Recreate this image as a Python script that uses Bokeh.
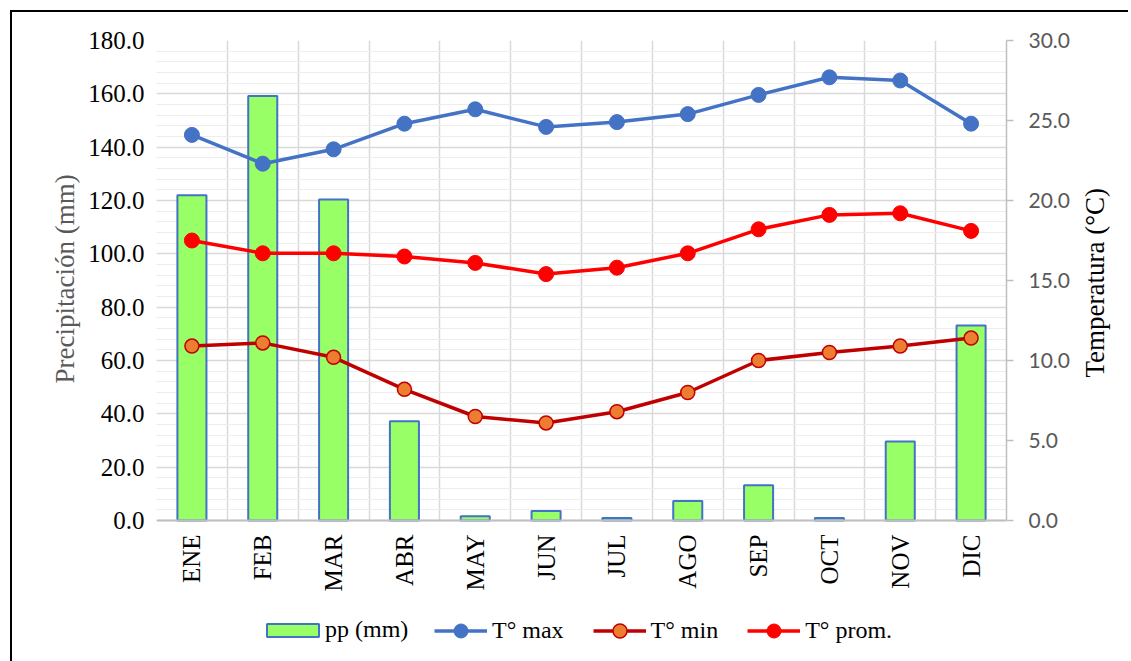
import math
from bokeh.plotting import figure
from bokeh.models import (Range1d, LinearAxis, FixedTicker, Legend, LegendItem,
                          ColumnDataSource, NumeralTickFormatter, Title)
from bokeh.embed import file_html
from bokeh.resources import INLINE

months = ["ENE", "FEB", "MAR", "ABR", "MAY", "JUN", "JUL", "AGO", "SEP", "OCT", "NOV", "DIC"]
pp = [122.0, 159.2, 120.4, 37.2, 1.6, 3.6, 0.9, 7.3, 13.2, 0.9, 29.6, 73.1]
tmax = [24.1, 22.3, 23.2, 24.8, 25.7, 24.6, 24.9, 25.4, 26.6, 27.7, 27.5, 24.8]
tmin = [10.9, 11.1, 10.2, 8.2, 6.5, 6.1, 6.8, 8.0, 10.0, 10.5, 10.9, 11.4]
tprom = [17.5, 16.7, 16.7, 16.5, 16.1, 15.4, 15.8, 16.7, 18.2, 19.1, 19.2, 18.1]
pp_ticks = [0, 20, 40, 60, 80, 100, 120, 140, 160, 180]
temp_ticks = [0, 5, 10, 15, 20, 25, 30]

xs = [i + 0.5 for i in range(len(months))]
src = ColumnDataSource(dict(x=xs, month=months, pp=pp, tmax=tmax, tmin=tmin, tprom=tprom))

SERIF = "Liberation Serif"

# plotting area: 480 px for the 0..180 / 0..30 span, extended below so that the
# month labels and the legend live inside the frame
PLOT_H = 480
EXTRA_H = 194
PP_MAX, T_MAX = 180, 30
pp_low = -EXTRA_H * PP_MAX / PLOT_H
t_low = -EXTRA_H * T_MAX / PLOT_H

p = figure(frame_width=850, frame_height=PLOT_H + EXTRA_H, output_backend="svg",
           toolbar_location=None,
           x_range=Range1d(0, len(months)), y_range=Range1d(pp_low, PP_MAX),
           min_border_left=144, min_border_right=122, min_border_top=28,
           min_border_bottom=0)
p.outline_line_color = None
p.background_fill_color = "white"
p.border_fill_color = "white"
p.styles = {"border-left": "2px solid black", "border-top": "2px solid black",
            "margin-left": "10px", "margin-top": "10px"}

p.extra_y_ranges = {"temp": Range1d(t_low, T_MAX)}

# grids
p.xgrid.ticker = FixedTicker(ticks=list(range(len(months) + 1)))
p.xgrid.grid_line_color = "#D9D9D9"
p.xgrid.grid_line_width = 1.5
if "cross_bounds" in p.xgrid[0].properties():
    p.xgrid.cross_bounds = (0, PP_MAX)
else:
    p.segment(x0=list(range(len(months) + 1)), y0=0, x1=list(range(len(months) + 1)),
              y1=PP_MAX, line_color="#D9D9D9", line_width=1.5, level="underlay")
    p.xgrid.grid_line_color = None
p.ygrid.ticker = FixedTicker(ticks=pp_ticks, minor_ticks=[v for v in range(0, PP_MAX + 1, 4)])
p.ygrid.grid_line_color = "#D9D9D9"
p.ygrid.grid_line_width = 1.5
p.ygrid.minor_grid_line_color = "#EDEDED"
p.ygrid.minor_grid_line_width = 1.2

# x axis (fixed at 0 inside the frame)
xa = p.xaxis[0]
xa.fixed_location = 0
xa.ticker = FixedTicker(ticks=xs)
xa.major_label_overrides = {x: m for x, m in zip(xs, months)}
xa.major_label_orientation = math.pi / 2
xa.major_label_text_font = SERIF
xa.major_label_text_font_size = "25px"
xa.major_label_text_color = "black"
xa.major_tick_line_color = None
xa.major_tick_out = 0
xa.major_tick_in = 0
xa.minor_tick_line_color = None
xa.axis_line_color = "#BFBFBF"
xa.axis_line_width = 2
xa.major_label_standoff = 14

# left axis
ya = p.yaxis[0]
ya.ticker = FixedTicker(ticks=pp_ticks)
ya.formatter = NumeralTickFormatter(format="0.0")
ya.axis_line_color = None
ya.major_tick_line_color = None
ya.major_tick_out = 0
ya.major_tick_in = 0
ya.minor_tick_line_color = None
ya.major_label_text_font = SERIF
ya.major_label_text_font_size = "25px"
ya.major_label_text_color = "black"
ya.major_label_standoff = 12

left_title = Title(text="Precipitación (mm)", align="left", offset=EXTRA_H + 137,
                   text_font=SERIF, text_font_style="normal", text_font_size="27px",
                   text_color="#595959", standoff=12)
p.add_layout(left_title, "left")

# right axis
ra = LinearAxis(y_range_name="temp", ticker=FixedTicker(ticks=temp_ticks),
                formatter=NumeralTickFormatter(format="0.0"), bounds=(0, T_MAX))
ra.axis_line_color = "#BFBFBF"
ra.axis_line_width = 1.5
ra.major_tick_line_color = "#BFBFBF"
ra.major_tick_line_width = 1.5
ra.major_tick_out = 7
ra.major_tick_in = 0
ra.minor_tick_line_color = None
ra.major_label_text_font = "Lato"
ra.major_label_text_font_size = "21px"
ra.major_label_text_color = "#595959"
ra.major_label_standoff = 15
ra.axis_label = "Temperatura (°C)"
ra.axis_label_text_font = SERIF
ra.axis_label_text_font_style = "normal"
ra.axis_label_text_font_size = "27px"
ra.axis_label_text_color = "black"
ra.axis_label_standoff = 22
if "axis_label_orientation" in ra.properties():
    ra.axis_label_orientation = math.pi / 2
p.add_layout(ra, "right")

# bars
bars = p.vbar(x="x", top="pp", width=0.41, source=src, fill_color="#99FF66",
              line_color="#4472C4", line_width=2)

# lines
l_max = p.line("x", "tmax", source=src, y_range_name="temp", line_color="#4472C4", line_width=3.5)
s_max = p.scatter("x", "tmax", source=src, y_range_name="temp", size=15,
                  fill_color="#4472C4", line_color="#4472C4")
l_min = p.line("x", "tmin", source=src, y_range_name="temp", line_color="#C00000", line_width=3.5)
s_min = p.scatter("x", "tmin", source=src, y_range_name="temp", size=14,
                  fill_color="#ED7D31", line_color="#C00000", line_width=1.5)
l_avg = p.line("x", "tprom", source=src, y_range_name="temp", line_color="#FF0000", line_width=3.5)
s_avg = p.scatter("x", "tprom", source=src, y_range_name="temp", size=15,
                  fill_color="#FF0000", line_color="#FF0000")


def style_legend(lg):
    lg.label_text_font = SERIF
    lg.label_text_font_size = "24px"
    lg.label_text_color = "black"
    lg.label_height = 24
    lg.border_line_color = None
    lg.background_fill_alpha = 0
    lg.padding = 2
    lg.margin = 0
    lg.spacing = 29


# bar legend (patch 52 x 13)
legend_bar = Legend(items=[LegendItem(label="pp (mm)", renderers=[bars])],
                    orientation="horizontal", location=(104, 71))
style_legend(legend_bar)
legend_bar.glyph_width = 65
legend_bar.glyph_height = 16
legend_bar.label_standoff = 0
p.add_layout(legend_bar, "center")

# line legend (taller glyph box so the markers are drawn full size)
legend_lines = Legend(items=[
    LegendItem(label="T° max", renderers=[l_max, s_max]),
    LegendItem(label="T° min", renderers=[l_min, s_min]),
    LegendItem(label="T° prom.", renderers=[l_avg, s_avg]),
], orientation="horizontal", location=(278, 66))
style_legend(legend_lines)
legend_lines.glyph_width = 53
legend_lines.glyph_height = 35
legend_lines.label_standoff = 5
p.add_layout(legend_lines, "center")

open("out.html", "w").write(file_html(p, INLINE))
